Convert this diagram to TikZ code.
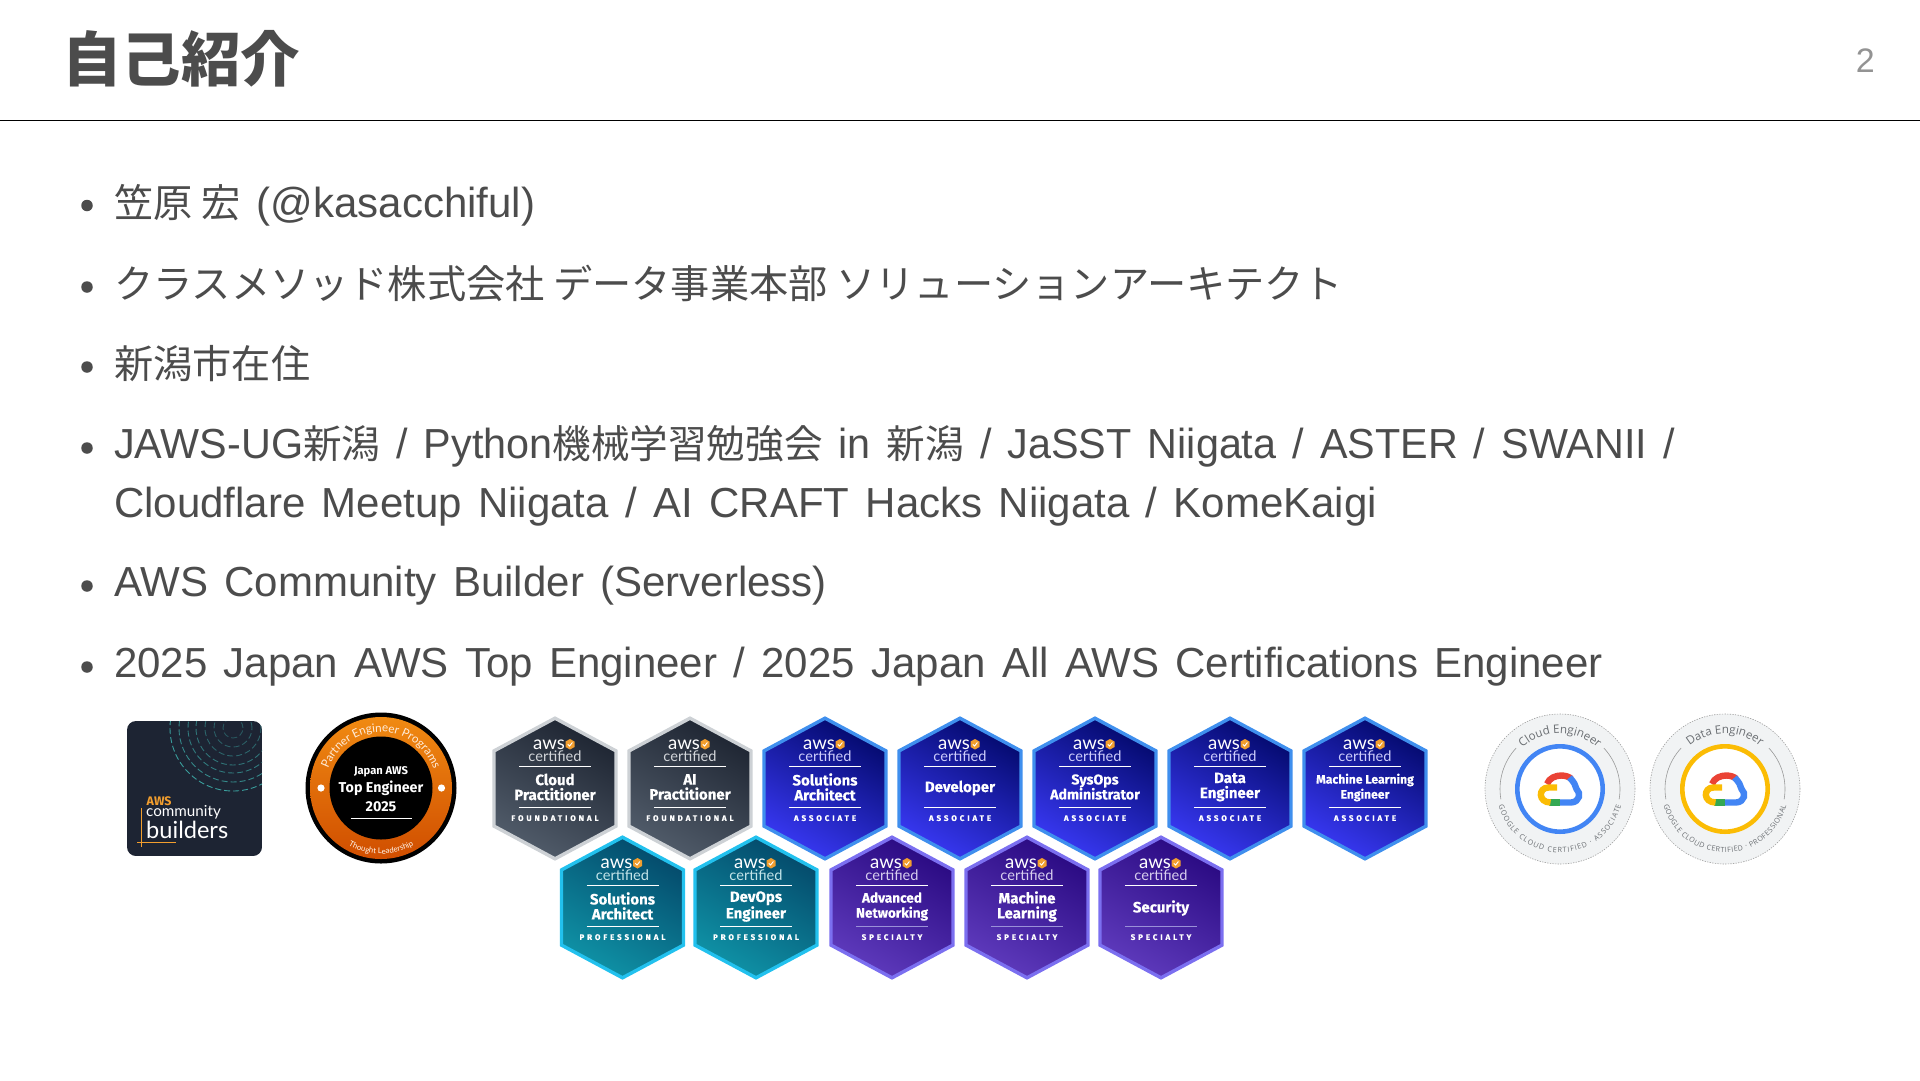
\documentclass[tikz,border=0pt]{standalone}
\usepackage{fontspec}
\usepackage{graphicx}
\usetikzlibrary{decorations.text}
\setmainfont[WordSpace=1.4]{Liberation Sans}
\newfontfamily\cjk{Noto Sans CJK JP}
\newfontfamily\firaf{Fira Sans}
\newfontfamily\firabase[BoldFeatures={FakeBold=0.35}]{Fira Sans}
\newcommand{\firab}{\firabase\bfseries}
\newfontfamily\latof{Lato}
\newfontfamily\openf{Open Sans}
\newcommand{\fs}[1]{\fontsize{#1}{#1}\selectfont}
\newcommand{\jp}[1]{{\cjk\fs{39.2}#1}}
\definecolor{ink}{HTML}{4C4C4C}
\definecolor{foundB}{HTML}{CDD1D5}\definecolor{foundA}{HTML}{515C6A}\definecolor{foundC}{HTML}{1E2532}\definecolor{foundR}{HTML}{FFFFFF}
\definecolor{assocB}{HTML}{3F8FEE}\definecolor{assocA}{HTML}{3838F2}\definecolor{assocC}{HTML}{040A6E}\definecolor{assocR}{HTML}{FFFFFF}
\definecolor{profB}{HTML}{22C1EE}\definecolor{profA}{HTML}{0F92A6}\definecolor{profC}{HTML}{044A6B}\definecolor{profR}{HTML}{FFFFFF}
\definecolor{specB}{HTML}{7B6FF0}\definecolor{specA}{HTML}{5E3ABC}\definecolor{specC}{HTML}{2A0A82}\definecolor{specR}{HTML}{9A90D8}
\definecolor{awsorange}{HTML}{F29E2E}
\definecolor{cbdark}{HTML}{1D2433}
\definecolor{cbteal}{HTML}{3FB5B0}
\definecolor{teA}{HTML}{F08A12}\definecolor{teB}{HTML}{D04E00}
\definecolor{gblue}{HTML}{4285F4}\definecolor{gyellow}{HTML}{FBBC04}\definecolor{ggreen}{HTML}{34A853}\definecolor{gred}{HTML}{EA4335}
\definecolor{ggray}{HTML}{F1F3F4}\definecolor{gtext}{HTML}{6A6E72}
\tikzset{
  bodytext/.style={anchor=base west,inner sep=0pt,text=ink,font=\fs{42}},
  bulletdot/.style={circle,fill=ink,inner sep=0pt,minimum size=11.5pt},
  ctext/.style={inner sep=0pt,text=white,align=center},
  whiterule/.style={draw=white,line width=1pt},
}
% \badge{id}{x}{y}{tier}{title}{level}{title size}{title shift}
\newcommand{\badge}[8]{%
\begin{scope}[shift={(#2,#3)}]
  \path[draw=#4B,line width=3.4pt,line join=miter,top color=#4A,bottom color=#4C,shading angle=150]
    (0,-70.3)--(61,-37.6)--(61,37.6)--(0,70.3)--(-61,37.6)--(-61,-37.6)--cycle;
  \node[ctext,anchor=base,font=\latof\fs{18.6}] (#1aws) at (-6,-39.5) {aws};
  \path[fill=awsorange] (15,-49.5)--(19.5,-47)--(19.5,-41.5)--(15,-39)--(10.5,-41.5)--(10.5,-47)--cycle;
  \draw[white,line width=.9pt] (12.8,-44.2)--(14.6,-42.5)--(17.4,-46);
  \node[ctext,anchor=base,font=\latof\fs{14.6},text=white!75!#4A] (#1cert) at (0,-27.5) {certified};
  \draw[whiterule] (-36,-22)--(36,-22);
  \node[ctext,anchor=center,font=\firab\fs{#7},execute at begin node=\setlength{\baselineskip}{15pt}] (#1title) at (0,#8) {#5};
  \draw[draw=#4R,line width=1pt] (-36,18.5)--(36,18.5);
  \node[ctext,anchor=base,font=\firab\fs{8}] (#1lvl) at (0,32.4) {\addfontfeature{LetterSpace=36}#6};
\end{scope}}
% \gbadge{id}{x}{ring colour}{title}{bottom text}
\newcommand{\gbadge}[5]{%
\begin{scope}[shift={(#2,789)},x=1pt,y=1pt]
  \fill[ggray] (0,0) circle[radius=75pt];
  \draw[gray!75,line width=.6pt,dash pattern=on 1.3pt off 1.3pt] (0,0) circle[radius=75pt];
  \draw[gray!80,line width=.6pt] (137:60pt) arc[start angle=137,end angle=190,radius=60pt];
  \draw[gray!80,line width=.6pt] (43:60pt) arc[start angle=43,end angle=-10,radius=60pt];
  \fill[white] (0,0) circle[radius=44pt];
  \draw[#3,line width=4.6pt] (0,0) circle[radius=42.7pt];
  % cloud
  \draw[gred,line width=6.4pt] (-13,5) .. controls (-11,11) and (-4,13.5) .. (1,13.5) .. controls (5,13.5) and (9,12.5) .. (11.5,10);
  \draw[gblue,line width=6.4pt] (9.5,11.5) .. controls (14,7) and (15.5,4) .. (16.5,0) .. controls (21,-4) and (20,-13) .. (11,-13.5) -- (0,-13.5);
  \draw[ggreen,line width=6.4pt] (0,-13.5) -- (-11,-13.5);
  \draw[gyellow,line width=6.4pt] (-3,1.5) -- (-11.5,1.5) .. controls (-22,1.5) and (-22,-13.5) .. (-9.5,-13.5);
  \path[decorate,decoration={text along path,text align=center,text={|\openf\fs{11.6}\color{gtext}|#4}}]
     (170:55.5pt) arc[start angle=170,end angle=10,radius=55.5pt];
  \path[decorate,decoration={text along path,text align=fit to path,text={|\openf\fs{7.2}\color{gtext}|#5}}]
     (195:63.5pt) arc[start angle=195,end angle=345,radius=63.5pt];
\end{scope}}
\begin{document}
\begin{tikzpicture}[x=1pt,y=-1pt]
\useasboundingbox (0,0) rectangle (1920,1080);
\fill[white] (0,0) rectangle (1920,1080);
% header
\node[anchor=base west,inner sep=0pt,text=ink,font=\cjk\bfseries\fs{59.5}] (title) at (62,81.5) {自己紹介};
\node[anchor=base east,inner sep=0pt,text=gray!85,font=\fs{34}] (pageno) at (1875,72) {2};
\coordinate (ruleL) at (0,120.5); \coordinate (ruleR) at (1920,120.5);
\draw[black,line width=1.6pt] (ruleL)--(ruleR);
% bullets
\node[bulletdot] (b1) at (87,205.5) {};
\node[bodytext] (t1) at (114,217) {\jp{笠原 宏} (@kasacchiful)};
\node[bulletdot] (b2) at (87,287) {};
\node[bodytext] (t2) at (114,298.5) {\jp{クラスメソッド株式会社 データ事業本部 ソリューションアーキテクト}};
\node[bulletdot] (b3) at (87,367) {};
\node[bodytext] (t3) at (114,378) {\jp{新潟市在住}};
\node[bulletdot] (b4) at (87,448) {};
\node[bodytext] (t4) at (114,458.5) {\scalebox{.984}[1]{JAWS-UG\jp{新潟} / Python\jp{機械学習勉強会} in \jp{新潟} / JaSST Niigata / ASTER / SWANII /}};
\node[bodytext] (t4b) at (114,517.5) {Cloudflare Meetup Niigata / AI CRAFT Hacks Niigata / KomeKaigi};
\node[bulletdot] (b5) at (87,586) {};
\node[bodytext] (t5) at (114,596) {AWS Community Builder (Serverless)};
\node[bulletdot] (b6) at (87,667) {};
\node[bodytext] (t6) at (114,677) {2025 Japan AWS Top Engineer / 2025 Japan All AWS Certifications Engineer};
% community builders
\begin{scope}
  \path[clip,rounded corners=9pt] (127,721) rectangle (262,856);
  \fill[cbdark] (127,721) rectangle (262,856);
  \foreach \r/\m in {10/35,19/40,28/45,37/55,45/60,54/70,63/85}{
    \draw[cbteal!\m!cbdark,line width=.9pt,dash pattern=on 6pt off 3pt] (233,728) circle[radius=\r pt];
  }
\end{scope}
\node[anchor=base west,inner sep=0pt,text=awsorange,font=\firaf\bfseries\fs{12.4}] (cbaws) at (146.5,805) {AWS};
\node[anchor=base west,inner sep=0pt,text=white,font=\latof\fs{15.2}] (cbcomm) at (146,816.5) {community};
\node[anchor=base west,inner sep=0pt,text=white,font=\latof\fs{23.6}] (cbbuild) at (146,838) {builders};
\draw[awsorange,line width=.9pt] (141,808)--(141,847);
\draw[awsorange,line width=.9pt] (137,842)--(176,842);
% top engineer
\begin{scope}[shift={(381,788)},x=1pt,y=1pt]
  \fill[black] (0,0) circle[radius=75.5pt];
  \shade[top color=teA,bottom color=teB] (0,0) circle[radius=71pt];
  \fill[black] (0,0) circle[radius=51.5pt];
  \fill[white] (-60,0) circle[radius=3.6pt];
  \fill[white] (60.5,0) circle[radius=3.6pt];
  \path[decorate,decoration={text along path,text align=center,text={|\latof\fs{11.6}\color{white!85!orange}|Partner Engineer Programs}}]
     (165:56pt) arc[start angle=165,end angle=15,radius=56pt];
  \path[decorate,decoration={text along path,text align=center,text={|\latof\fs{7.8}\color{white!92!orange}|Thought Leadership}}]
     (236:66pt) arc[start angle=236,end angle=304,radius=66pt];
  \draw[white,line width=.8pt] (-30.5,-30) -- (30.5,-30);
\end{scope}
\node[ctext,font=\firaf\bfseries\fs{11.2}] (te1) at (381,772) {Japan AWS};
\node[ctext,font=\firaf\bfseries\fs{14.3}] (te2) at (381,788) {Top Engineer};
\node[ctext,font=\firaf\bfseries\fs{14.3}] (te3) at (381,807) {2025};
% AWS badges, row 1
\badge{a}{555}{788.5}{found}{Cloud\\Practitioner}{FOUNDATIONAL}{15}{-1.5}
\badge{b}{690}{788.5}{found}{AI\\Practitioner}{FOUNDATIONAL}{15}{-1.5}
\badge{c}{825}{788.5}{assoc}{Solutions\\Architect}{ASSOCIATE}{15}{-1.5}
\badge{d}{960}{788.5}{assoc}{Developer}{ASSOCIATE}{15}{-.5}
\badge{e}{1095}{788.5}{assoc}{SysOps\\Administrator}{ASSOCIATE}{14.2}{-1.5}
\badge{f}{1230}{788.5}{assoc}{Data\\Engineer}{ASSOCIATE}{15}{-1.5}
\badge{g}{1365}{788.5}{assoc}{Machine Learning\\Engineer}{ASSOCIATE}{12.2}{-1}
% row 2
\badge{h}{622.5}{907.5}{prof}{Solutions\\Architect}{PROFESSIONAL}{15}{-1.5}
\badge{i}{756}{907.5}{prof}{DevOps\\Engineer}{PROFESSIONAL}{15}{-1}
\badge{j}{892}{907.5}{spec}{Advanced\\Networking}{SPECIALTY}{13.6}{-1}
\badge{k}{1027}{907.5}{spec}{Machine\\Learning}{SPECIALTY}{15}{-1}
\badge{l}{1161}{907.5}{spec}{Security}{SPECIALTY}{15}{0.5}
% google
\gbadge{m}{1560}{gblue}{Cloud Engineer}{GOOGLE CLOUD CERTIFIED · ASSOCIATE}
\gbadge{n}{1725}{gyellow}{Data Engineer}{GOOGLE CLOUD CERTIFIED · PROFESSIONAL}
\end{tikzpicture}
\end{document}
